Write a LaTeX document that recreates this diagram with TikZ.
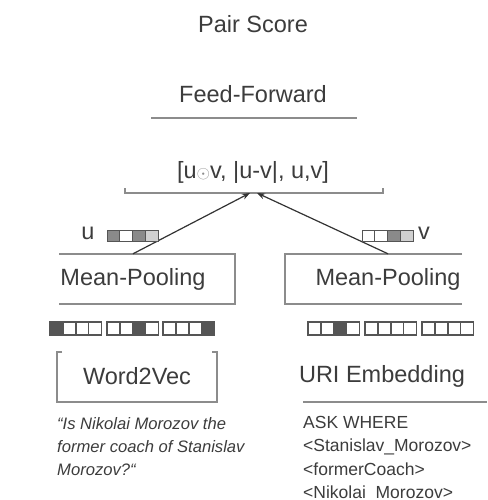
\documentclass[tikz,border=0pt]{standalone}
\usepackage{fontspec}
\setmainfont{Liberation Sans}
\usepackage{tikz}
\usetikzlibrary{arrows.meta}

\definecolor{txt}{HTML}{3C3C3C}
\definecolor{rule}{HTML}{8C8C8C}
\definecolor{cellgray}{HTML}{555555}
\definecolor{midgray}{HTML}{8A8A8A}
\definecolor{palegray}{HTML}{D0D0D0}

\tikzset{
	big/.style={text=txt, font=\fontsize{23.5}{27}\selectfont, inner sep=0pt},
	small/.style={text=txt, font=\fontsize{17.5}{23.3}\selectfont, inner sep=0pt, align=left},
	frame/.style={draw=rule, line width=1.2pt},
	arrow/.style={draw=black!80, line width=1.2pt, -{Stealth[length=8pt,width=6pt]}},
	cell/.style={draw=cellgray, line width=1.4pt}
}

\begin{document}
\begin{tikzpicture}[x=1pt, y=-1pt]
				\useasboundingbox (0,0) rectangle (487,500);
				\path (253,24) node[big] (score){Pair Score}
				(253,94) node[big] (ff){Feed-Forward}
				(253,172) node[big] (cat){[u{\color{rule}\fontsize{18}{18}\selectfont$\odot$}v, |u-v|, u,v]}
				(133,279) node[big, minimum height=50pt] (pool1){Mean-Pooling}
				(388,279) node[big, minimum height=50pt] (pool2){Mean-Pooling}
				(88,233) node[big] (u){u}
				(424,233) node[big] (v){v}
				(137,376) node[big] (w2v){Word2Vec}
				(382,376) node[big] (uri){URI Embedding}
				(57,417) node[small, font=\fontsize{16.6}{23}\selectfont\itshape, anchor=north west] (question){“Is Nikolai Morozov the\\former coach of Stanislav\\Morozov?“}
				(303,416) node[small, anchor=north west] (query){ASK WHERE\\<Stanislav\_Morozov>\\<formerCoach>\\<Nikolai\_Morozov>};
				\coordinate (catin) at (253,193);
				
				% rules and boxes
				\draw[frame] (151,118) -- (357,118);
				\draw[frame] (125,188) -- (125,193) -- (383,193) -- (383,188);
				\draw[frame] (59,254) -- (235,254) -- (235,304) -- (59,304);
				\draw[frame] (462,254) -- (285,254) -- (285,304) -- (462,304);
				\draw[frame] (62,352) -- (57,352) -- (57,402) -- (217,402) -- (217,352) -- (212,352);
				\draw[frame] (303,402) -- (487,402);
				
				\draw[arrow] (pool1.north) -- ([xshift=-3pt]catin);
				\draw[arrow] (pool2.north) -- ([xshift=4pt]catin);
				
				% sentence vectors
				\foreach \c [count=\k from 0] in {midgray,white,midgray,palegray}
					\draw[cell, line width=1pt, fill=\c] (107+\k*12.75,230) rectangle ++(12.75,11);
				\foreach \c [count=\k from 0] in {white,white,midgray,palegray}
					\draw[cell, line width=1pt, fill=\c] (362+\k*12.75,230) rectangle ++(12.75,11);
				
				% token vectors
				\foreach \x/\d in {50/0,107/2,163/3,308/2,365/9,422/9}
					\foreach \k in {0,...,3} {
						\ifnum\k=\d \def\cc{cellgray}\else\def\cc{white}\fi
						\draw[cell, fill=\cc] (\x+\k*12.9,322) rectangle ++(12.9,13);
					}
			\end{tikzpicture}
\end{document}
